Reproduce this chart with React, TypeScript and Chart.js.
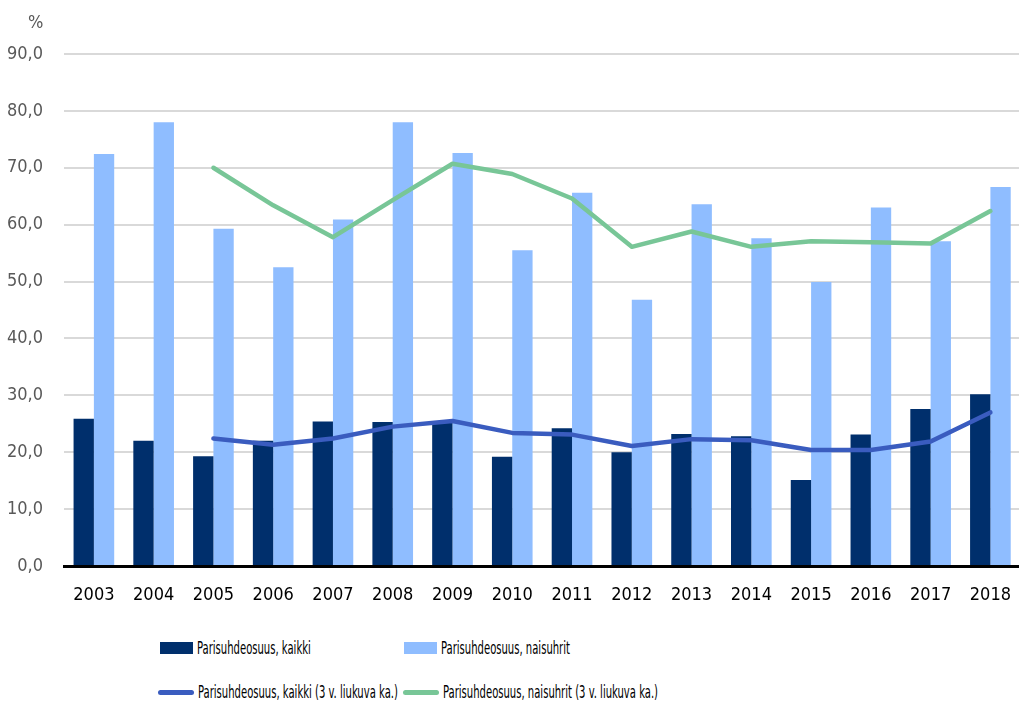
import React, { useEffect, useRef } from "react";
import { Chart, registerables } from "chart.js";

Chart.register(...registerables);

const years = ["2003", "2004", "2005", "2006", "2007", "2008", "2009", "2010", "2011", "2012", "2013", "2014", "2015", "2016", "2017", "2018"];
const kaikki = [25.9, 22.0, 19.3, 22.0, 25.4, 25.3, 25.5, 19.2, 24.2, 20.0, 23.2, 22.8, 15.1, 23.1, 27.6, 30.2];
const naisuhrit = [72.4, 78.0, 59.3, 52.5, 60.9, 78.0, 72.6, 55.5, 65.6, 46.8, 63.6, 57.6, 49.9, 63.0, 57.1, 66.6];
const kaikkiAvg = [null, null, 22.4, 21.3, 22.4, 24.5, 25.5, 23.4, 23.1, 21.1, 22.3, 22.1, 20.4, 20.4, 21.9, 27.0];
const naisuhritAvg = [null, null, 70.0, 63.4, 57.8, 64.3, 70.7, 68.9, 64.6, 56.1, 58.8, 56.1, 57.1, 56.9, 56.7, 62.4];

const labelKaikki = "Parisuhdeosuus, kaikki";
const labelNaisuhrit = "Parisuhdeosuus, naisuhrit";
const labelKaikkiAvg = "Parisuhdeosuus, kaikki (3 v. liukuva ka.)";
const labelNaisuhritAvg = "Parisuhdeosuus, naisuhrit (3 v. liukuva ka.)";

const DARK = "#002f6c";
const LIGHT = "#8fbdff";
const BLUE = "#3a5cbf";
const GREEN = "#78c697";
const FONT = "'DejaVu Sans Condensed', 'DejaVu Sans', sans-serif";

export default function App() {
  const ref = useRef<HTMLCanvasElement | null>(null);

  useEffect(() => {
    if (!ref.current) return;
    const chart = new Chart(ref.current, {
      type: "bar",
      data: {
        labels: years,
        datasets: [
          {
            type: "line",
            label: labelKaikkiAvg,
            data: kaikkiAvg,
            borderColor: BLUE,
            backgroundColor: BLUE,
            borderWidth: 4.5,
            pointRadius: 0,
            tension: 0,
            borderCapStyle: "round",
            borderJoinStyle: "round",
            order: 0,
          },
          {
            type: "line",
            label: labelNaisuhritAvg,
            data: naisuhritAvg,
            borderColor: GREEN,
            backgroundColor: GREEN,
            borderWidth: 4.5,
            pointRadius: 0,
            tension: 0,
            borderCapStyle: "round",
            borderJoinStyle: "round",
            order: 0,
          },
          {
            type: "bar",
            label: labelKaikki,
            data: kaikki,
            backgroundColor: DARK,
            categoryPercentage: 0.68,
            barPercentage: 1,
            order: 1,
          },
          {
            type: "bar",
            label: labelNaisuhrit,
            data: naisuhrit,
            backgroundColor: LIGHT,
            categoryPercentage: 0.68,
            barPercentage: 1,
            order: 1,
          },
        ] as any,
      },
      options: {
        responsive: false,
        animation: false,
        layout: { padding: { top: 54, left: 0, right: 0, bottom: 0 } },
        plugins: {
          legend: { display: false },
          tooltip: { enabled: false },
        },
        scales: {
          x: {
            grid: { display: false, drawTicks: false },
            border: { display: true, color: "#000", width: 3 },
            ticks: {
              color: "#000",
              padding: 19,
              font: { family: FONT, size: 18 },
            },
            afterFit: (s: any) => {
              s.height = 54;
            },
          },
          y: {
            min: 0,
            max: 90,
            grid: { color: "#d9d9d9", lineWidth: 2, drawTicks: false },
            border: { display: false },
            ticks: {
              stepSize: 10,
              color: "#595959",
              padding: 21,
              font: { family: FONT, size: 18 },
              callback: (v: any) => Number(v).toFixed(1).replace(".", ","),
            },
            afterFit: (s: any) => {
              s.width = 64;
            },
          },
        },
      },
    });
    return () => chart.destroy();
  }, []);

  const legendText: React.CSSProperties = {
    fontFamily: FONT,
    fontSize: 18,
    color: "#000",
    whiteSpace: "nowrap",
    lineHeight: "20px",
    display: "inline-block",
    transform: "scaleX(0.62)",
    transformOrigin: "left center",
  };

  const item = (left: number, top: number, swatch: React.ReactNode, text: string) => (
    <div style={{ position: "absolute", left, top, height: 20, display: "flex", alignItems: "center" }}>
      {swatch}
      <span style={{ ...legendText, marginLeft: 4 }}>{text}</span>
    </div>
  );

  const box = (color: string) => <div style={{ width: 33, height: 12, background: color, flex: "none" }} />;
  const line = (color: string) => <div style={{ width: 36, height: 5, borderRadius: 3, background: color, flex: "none" }} />;

  return (
    <div style={{ position: "fixed", left: 0, top: 0, width: 1019, height: 705, overflow: "hidden", background: "#fff" }}>
      <canvas ref={ref} width={1030} height={620} style={{ position: "absolute", left: 0, top: 0 }} />
      <div style={{ position: "absolute", left: 28, top: 12, fontFamily: FONT, fontSize: 18, color: "#595959", lineHeight: "20px" }}>%</div>
      {item(160, 638, box(DARK), labelKaikki)}
      {item(404, 638, box(LIGHT), labelNaisuhrit)}
      {item(158, 682, line(BLUE), labelKaikkiAvg)}
      {item(403, 682, line(GREEN), labelNaisuhritAvg)}
    </div>
  );
}
